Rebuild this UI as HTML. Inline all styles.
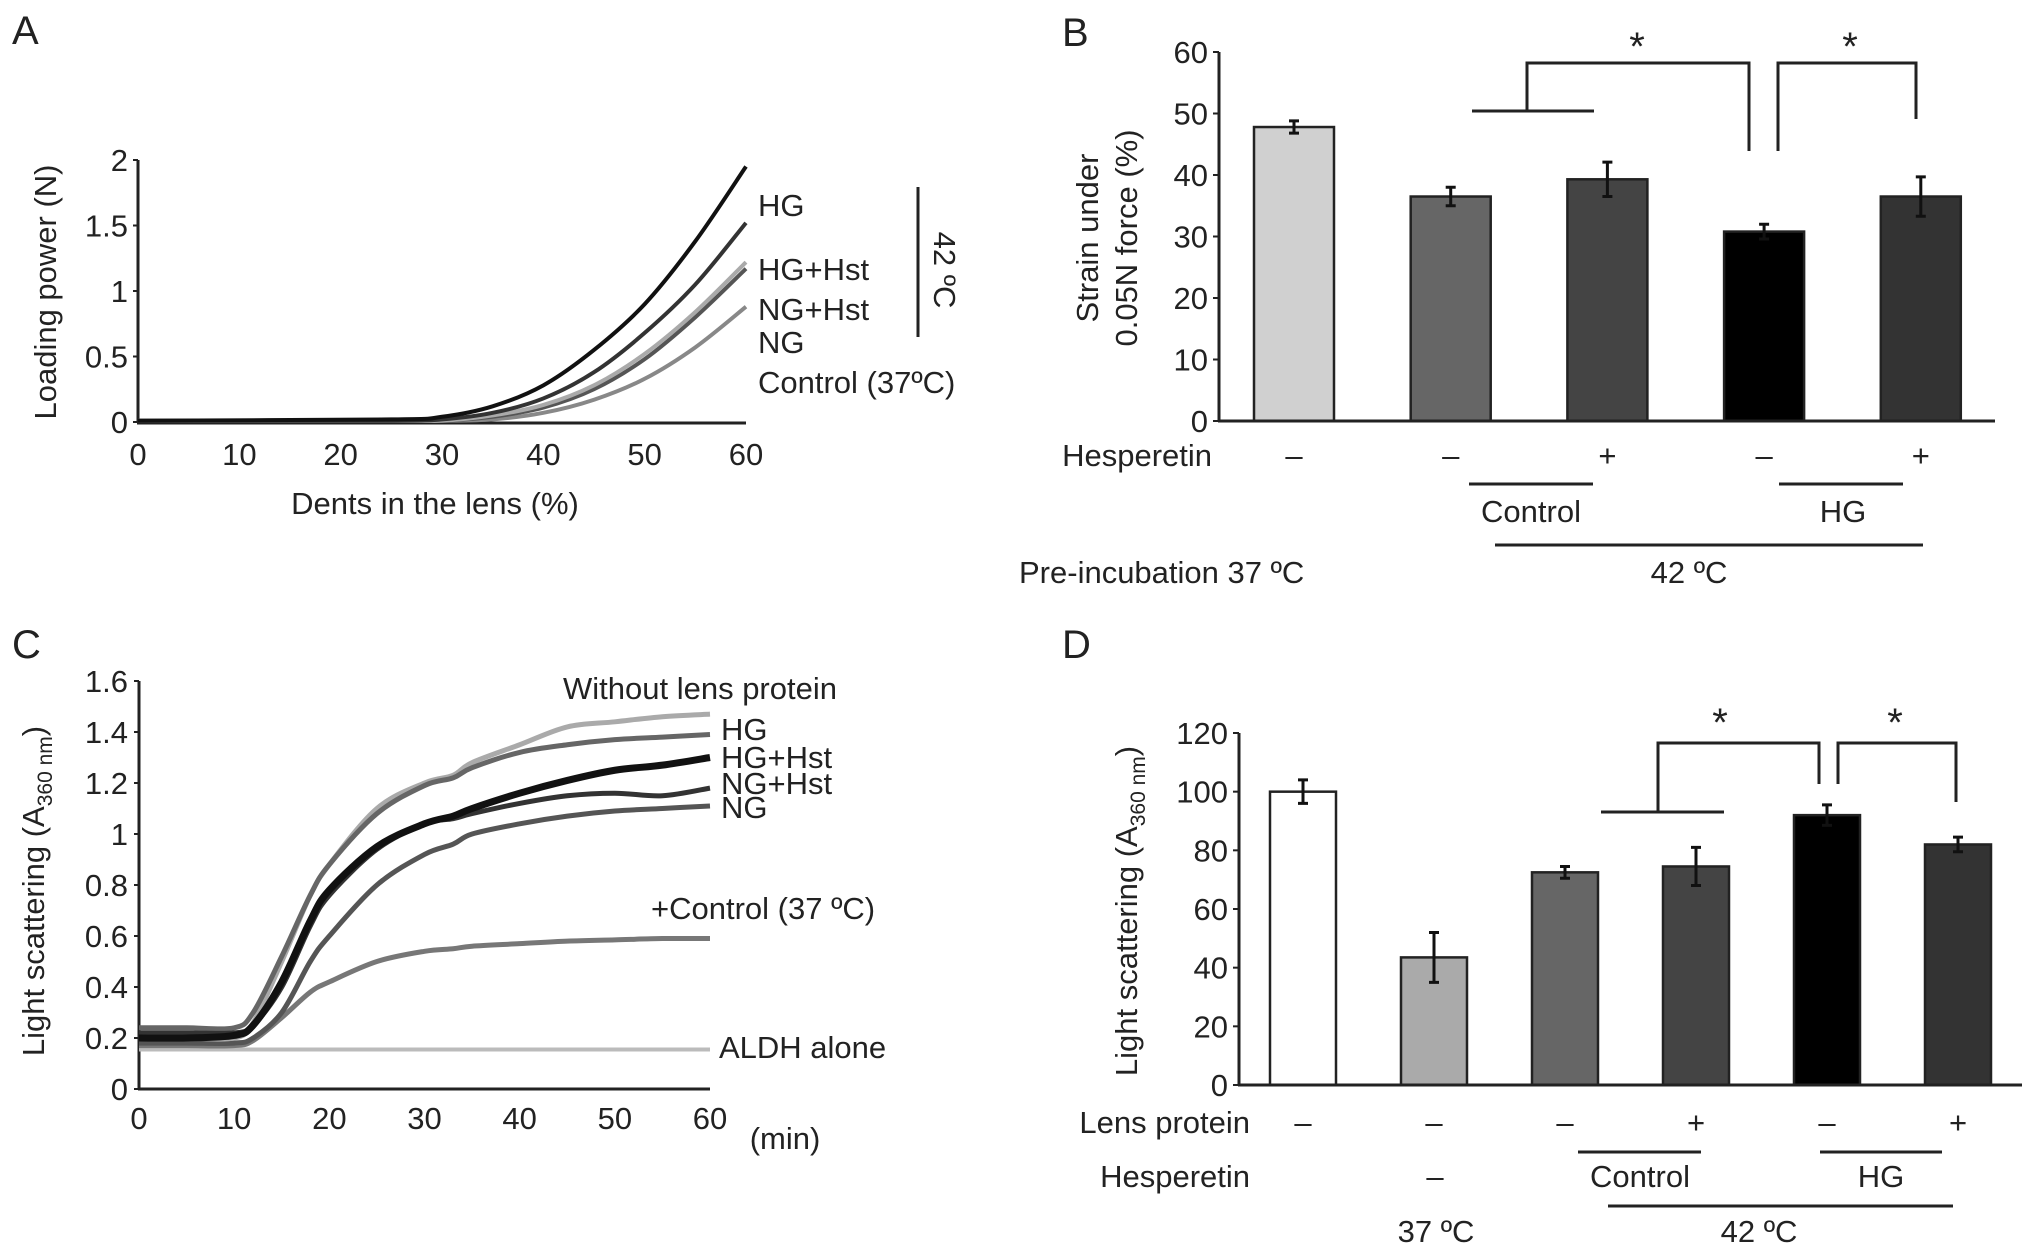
<!DOCTYPE html>
<html><head><meta charset="utf-8"><style>
html,body{margin:0;padding:0;background:#fff;}
svg{display:block;font-family:"Liberation Sans",sans-serif;}
text{fill:#222;}
</style></head><body>
<svg id="fig" width="2032" height="1258" viewBox="0 0 2032 1258" xmlns="http://www.w3.org/2000/svg">
<g font-size="31">
<text x="12" y="44" font-size="40">A</text>
<text x="435" y="514" text-anchor="middle">Dents in the lens (%)</text>
<text transform="translate(56,292) rotate(-90)" text-anchor="middle">Loading power (N)</text>
<text x="758" y="216">HG</text>
<text x="758" y="280">HG+Hst</text>
<text x="758" y="320">NG+Hst</text>
<text x="758" y="353">NG</text>
<text x="758" y="393">Control (37ºC)</text>
<line x1="918" y1="187" x2="918" y2="337" stroke="#222" stroke-width="3"/>
<text transform="translate(934,270) rotate(90)" text-anchor="middle">42 ºC</text>
</g>
<g font-size="31">
<text x="1062" y="46" font-size="40">B</text>
<text transform="translate(1098,238) rotate(-90)" text-anchor="middle">Strain under</text>
<text transform="translate(1137,238) rotate(-90)" text-anchor="middle">0.05N force (%)</text>
<text x="1212" y="466" text-anchor="end">Hesperetin</text>
<line x1="1469" y1="484" x2="1593" y2="484" stroke="#222" stroke-width="3"/>
<text x="1531" y="522" text-anchor="middle">Control</text>
<line x1="1779" y1="484" x2="1903" y2="484" stroke="#222" stroke-width="3"/>
<text x="1843" y="522" text-anchor="middle">HG</text>
<line x1="1495" y1="545" x2="1923" y2="545" stroke="#222" stroke-width="3"/>
<text x="1689" y="583" text-anchor="middle">42 ºC</text>
<text x="1019" y="583">Pre-incubation 37 ºC</text>
<polyline points="1472,111 1594,111" fill="none" stroke="#222" stroke-width="3"/>
<polyline points="1527,111 1527,63 1749,63 1749,151" fill="none" stroke="#222" stroke-width="3"/>
<polyline points="1778,151 1778,63 1916,63 1916,119" fill="none" stroke="#222" stroke-width="3"/>
<text x="1637" y="60" font-size="40" text-anchor="middle">*</text>
<text x="1850" y="60" font-size="40" text-anchor="middle">*</text>
</g>
<g font-size="31">
<text x="12" y="658" font-size="40">C</text>
<text transform="translate(44,891) rotate(-90)" text-anchor="middle">Light scattering (A<tspan font-size="21" dy="8">360 nm</tspan><tspan dy="-8">)</tspan></text>
<text x="785" y="1149" text-anchor="middle">(min)</text>
<text x="700" y="699" text-anchor="middle">Without lens protein</text>
<text x="721" y="740">HG</text>
<text x="721" y="768">HG+Hst</text>
<text x="721" y="794">NG+Hst</text>
<text x="721" y="818">NG</text>
<text x="651" y="919">+Control (37 ºC)</text>
<text x="719" y="1058">ALDH alone</text>
</g>
<g font-size="31">
<text x="1062" y="658" font-size="40">D</text>
<text transform="translate(1137,911) rotate(-90)" text-anchor="middle">Light scattering (A<tspan font-size="21" dy="8">360 nm</tspan><tspan dy="-8">)</tspan></text>
<text x="1250" y="1133" text-anchor="end">Lens protein</text>
<text x="1250" y="1187" text-anchor="end">Hesperetin</text>
<text x="1435" y="1187" text-anchor="middle">–</text>
<line x1="1578" y1="1152" x2="1701" y2="1152" stroke="#222" stroke-width="3"/>
<text x="1640" y="1187" text-anchor="middle">Control</text>
<line x1="1820" y1="1152" x2="1942" y2="1152" stroke="#222" stroke-width="3"/>
<text x="1881" y="1187" text-anchor="middle">HG</text>
<line x1="1608" y1="1206" x2="1953" y2="1206" stroke="#222" stroke-width="3"/>
<text x="1436" y="1242" text-anchor="middle">37 ºC</text>
<text x="1759" y="1242" text-anchor="middle">42 ºC</text>
<polyline points="1601,812 1724,812" fill="none" stroke="#222" stroke-width="3"/>
<polyline points="1658,812 1658,743 1819,743 1819,784" fill="none" stroke="#222" stroke-width="3"/>
<polyline points="1838,784 1838,743 1956,743 1956,802" fill="none" stroke="#222" stroke-width="3"/>
<text x="1720" y="736" font-size="40" text-anchor="middle">*</text>
<text x="1895" y="736" font-size="40" text-anchor="middle">*</text>
</g>
</svg>
<script>
// ---- Panel A data ----
const aX = [0, 25, 30, 35, 40, 45, 50, 55, 60];
const aHG = [0.01, 0.02, 0.04, 0.12, 0.28, 0.55, 0.9, 1.38, 1.95];
const aHGHst = [0.01, 0.01, 0.02, 0.07, 0.18, 0.38, 0.68, 1.05, 1.52];
const aNGHst = [0.01, 0.01, 0.01, 0.05, 0.13, 0.28, 0.52, 0.84, 1.22];
const aNG = [0.01, 0.01, 0.01, 0.04, 0.11, 0.25, 0.48, 0.8, 1.17];
const aCtrl = [0.01, 0.01, 0.01, 0.02, 0.07, 0.17, 0.33, 0.57, 0.88];
const aXTicks = [0, 10, 20, 30, 40, 50, 60];
const aYTicks = [0, 0.5, 1, 1.5, 2];
// ---- Panel B data ----
const bCats = ["37-none", "control-minus", "control-plus", "hg-minus", "hg-plus"];
const bVals = [47.8, 36.5, 39.3, 30.8, 36.5];
const bErr = [1.0, 1.5, 2.8, 1.2, 3.2];
const bHesp = ["–", "–", "+", "–", "+"];
const bYTicks = [0, 10, 20, 30, 40, 50, 60];
// ---- Panel C data ----
const cX = [0, 5, 10, 12, 15, 18, 20, 25, 30, 33, 35, 40, 45, 50, 55, 60];
const cHG = [0.2, 0.2, 0.2, 0.26, 0.5, 0.76, 0.88, 1.1, 1.2, 1.23, 1.28, 1.35, 1.42, 1.44, 1.46, 1.47];
const cHGb = [0.24, 0.24, 0.24, 0.3, 0.52, 0.76, 0.88, 1.08, 1.19, 1.22, 1.26, 1.32, 1.35, 1.37, 1.38, 1.39];
const cHGHst = [0.2, 0.2, 0.21, 0.25, 0.42, 0.66, 0.78, 0.95, 1.04, 1.07, 1.1, 1.16, 1.21, 1.25, 1.27, 1.3];
const cNGHst = [0.22, 0.22, 0.22, 0.25, 0.4, 0.64, 0.76, 0.94, 1.04, 1.06, 1.08, 1.12, 1.15, 1.16, 1.15, 1.18];
const cNG = [0.18, 0.18, 0.18, 0.2, 0.3, 0.5, 0.6, 0.8, 0.92, 0.96, 1.0, 1.04, 1.07, 1.09, 1.1, 1.11];
const cCtrl = [0.17, 0.17, 0.17, 0.19, 0.28, 0.38, 0.42, 0.5, 0.54, 0.55, 0.56, 0.57, 0.58, 0.585, 0.59, 0.59];
const cALDH = [0.155, 0.155, 0.155, 0.155, 0.155, 0.155, 0.155, 0.155, 0.155, 0.155, 0.155, 0.155, 0.155, 0.155, 0.155, 0.155];
const cXTicks = [0, 10, 20, 30, 40, 50, 60];
const cYTicks = [0, 0.2, 0.4, 0.6, 0.8, 1, 1.2, 1.4, 1.6];
const cYLabels = ["0", "0.2", "0.4", "0.6", "0.8", "1", "1.2", "1.4", "1.6"];
// ---- Panel D data ----
const dCats = ["37-none", "37-hesp", "control-minus", "control-plus", "hg-minus", "hg-plus"];
const dVals = [100, 43.5, 72.5, 74.5, 92, 82];
const dErr = [4, 8.5, 2, 6.5, 3.5, 2.5];
const dLens = ["–", "–", "–", "+", "–", "+"];
const dYTicks = [0, 20, 40, 60, 80, 100, 120];

const NS = "http://www.w3.org/2000/svg";
const svg = document.getElementById("fig");
function mk(tag, attrs, parent) {
  const e = document.createElementNS(NS, tag);
  for (const k in attrs) e.setAttribute(k, attrs[k]);
  (parent || svg).appendChild(e);
  return e;
}
function lin(d0, d1, r0, r1) { return v => r0 + (v - d0) / (d1 - d0) * (r1 - r0); }
const FS = 31;

// ===== Panel A =====
const axA = lin(0, 60, 138, 746), ayA = lin(0, 2, 422, 160);
let gA = mk("g", {});


let l = mk("line", {x1: 138, y1: ayA(2), x2: 138, y2: 423, stroke: "#222", "stroke-width": 3}, gA);


l = mk("line", {x1: 137, y1: 423, x2: 746, y2: 423, stroke: "#222", "stroke-width": 3}, gA);


aXTicks.forEach(t => {
  const e = mk("text", {x: axA(t), y: 465, "text-anchor": "middle", "font-size": FS}, gA);
  e.textContent = t;
  
  
});
aYTicks.forEach(t => {
  const e = mk("text", {x: 128, y: ayA(t) + 11, "text-anchor": "end", "font-size": FS}, gA);
  e.textContent = t;
  
  
  const k = mk("line", {x1: 133, x2: 138, y1: ayA(t), y2: ayA(t), stroke: "#222", "stroke-width": 2}, gA);
  
  
});
function smoothPath(xs, ys, fx, fy) {
  const pts = xs.map((x, i) => [fx(x), fy(ys[i])]);
  let d = "M" + pts[0][0] + "," + pts[0][1];
  for (let i = 0; i < pts.length - 1; i++) {
    const p0 = pts[Math.max(0, i - 1)], p1 = pts[i], p2 = pts[i + 1], p3 = pts[Math.min(pts.length - 1, i + 2)];
    const c1x = p1[0] + (p2[0] - p0[0]) / 6, c1y = p1[1] + (p2[1] - p0[1]) / 6;
    const c2x = p2[0] - (p3[0] - p1[0]) / 6, c2y = p2[1] - (p3[1] - p1[1]) / 6;
    d += " C" + c1x + "," + c1y + " " + c2x + "," + c2y + " " + p2[0] + "," + p2[1];
  }
  return d;
}
[[aCtrl, "#888", "line-control-a"], [aNG, "#555", "line-ng-a"], [aNGHst, "#aaa", "line-ng-hst-a"], [aHGHst, "#333", "line-hg-hst-a"], [aHG, "#111", "line-hg-a"]].forEach(s => {
  const p = mk("path", {d: smoothPath(aX, s[0], axA, ayA), fill: "none", stroke: s[1], "stroke-width": 4}, gA);
  
  
});

// ===== Panel B =====
const ayB = lin(0, 60, 421, 52);
const bx0 = 1294, bStep = 156.7, bW = 80;
let gB = mk("g", {});


const bColors = ["#d0d0d0", "#666", "#444", "#000", "#333"];
bVals.forEach((v, i) => {
  const cx = bx0 + i * bStep;
  const r = mk("rect", {x: cx - bW / 2, y: ayB(v), width: bW, height: ayB(0) - ayB(v), fill: bColors[i], stroke: "#222", "stroke-width": 2.5}, gB);
  
  
  const eb = mk("path", {d: "M" + cx + "," + ayB(v + bErr[i]) + "V" + ayB(v - bErr[i]) + "M" + (cx - 5) + "," + ayB(v + bErr[i]) + "h10M" + (cx - 5) + "," + ayB(v - bErr[i]) + "h10", stroke: "#111", "stroke-width": 3, fill: "none"}, gB);
  
  
  const t = mk("text", {x: cx, y: 466, "text-anchor": "middle", "font-size": FS}, gB);
  t.textContent = bHesp[i];
  
  
});
l = mk("line", {x1: 1219, y1: 52, x2: 1219, y2: 422, stroke: "#222", "stroke-width": 3}, gB);


l = mk("line", {x1: 1218, y1: 421, x2: 1995, y2: 421, stroke: "#222", "stroke-width": 3}, gB);


bYTicks.forEach(t => {
  const e = mk("text", {x: 1208, y: ayB(t) + 11, "text-anchor": "end", "font-size": FS}, gB);
  e.textContent = t;
  
  
  const k = mk("line", {x1: 1213, x2: 1219, y1: ayB(t), y2: ayB(t), stroke: "#222", "stroke-width": 2}, gB);
  
  
});

// ===== Panel C =====
const axC = lin(0, 60, 139, 710), ayC = lin(0, 1.6, 1089, 681);
let gC = mk("g", {});


l = mk("line", {x1: 139, y1: 681, x2: 139, y2: 1090, stroke: "#222", "stroke-width": 3}, gC);


l = mk("line", {x1: 138, y1: 1089, x2: 710, y2: 1089, stroke: "#222", "stroke-width": 3}, gC);


cXTicks.forEach(t => {
  const e = mk("text", {x: axC(t), y: 1129, "text-anchor": "middle", "font-size": FS}, gC);
  e.textContent = t;
  
  
});
cYTicks.forEach((t, i) => {
  const e = mk("text", {x: 128, y: ayC(t) + 11, "text-anchor": "end", "font-size": FS}, gC);
  e.textContent = cYLabels[i];
  
  
  const k = mk("line", {x1: 134, x2: 139, y1: ayC(t), y2: ayC(t), stroke: "#222", "stroke-width": 2}, gC);
  
  
});
[[cALDH, "#bbb", 4, "line-aldh-alone"], [cCtrl, "#777", 5, "line-control-c"], [cNG, "#555", 5, "line-ng-c"], [cHG, "#aaa", 5, "line-hg-c"], [cHGb, "#666", 5, "line-hg-dark-c"], [cNGHst, "#333", 5, "line-ng-hst-c"], [cHGHst, "#111", 7, "line-hg-hst-c"]].forEach(s => {
  const p = mk("path", {d: smoothPath(cX, s[0], axC, ayC), fill: "none", stroke: s[1], "stroke-width": s[2]}, gC);
  
  
});

// ===== Panel D =====
const ayD = lin(0, 120, 1085, 733);
const dx0 = 1303, dStep = 131, dW = 66;
let gD = mk("g", {});


const dColors = ["#fff", "#aaa", "#666", "#444", "#000", "#333"];
dVals.forEach((v, i) => {
  const cx = dx0 + i * dStep;
  const r = mk("rect", {x: cx - dW / 2, y: ayD(v), width: dW, height: ayD(0) - ayD(v), fill: dColors[i], stroke: "#222", "stroke-width": 2.5}, gD);
  
  
  const eb = mk("path", {d: "M" + cx + "," + ayD(v + dErr[i]) + "V" + ayD(v - dErr[i]) + "M" + (cx - 5) + "," + ayD(v + dErr[i]) + "h10M" + (cx - 5) + "," + ayD(v - dErr[i]) + "h10", stroke: "#111", "stroke-width": 3, fill: "none"}, gD);
  
  
  const t = mk("text", {x: cx, y: 1133, "text-anchor": "middle", "font-size": FS}, gD);
  t.textContent = dLens[i];
  
  
});
l = mk("line", {x1: 1239, y1: 733, x2: 1239, y2: 1086, stroke: "#222", "stroke-width": 3}, gD);


l = mk("line", {x1: 1238, y1: 1085, x2: 2022, y2: 1085, stroke: "#222", "stroke-width": 3}, gD);


dYTicks.forEach(t => {
  const e = mk("text", {x: 1228, y: ayD(t) + 11, "text-anchor": "end", "font-size": FS}, gD);
  e.textContent = t;
  
  
  const k = mk("line", {x1: 1233, x2: 1239, y1: ayD(t), y2: ayD(t), stroke: "#222", "stroke-width": 2}, gD);
  
  
});
</script>
</body></html>
